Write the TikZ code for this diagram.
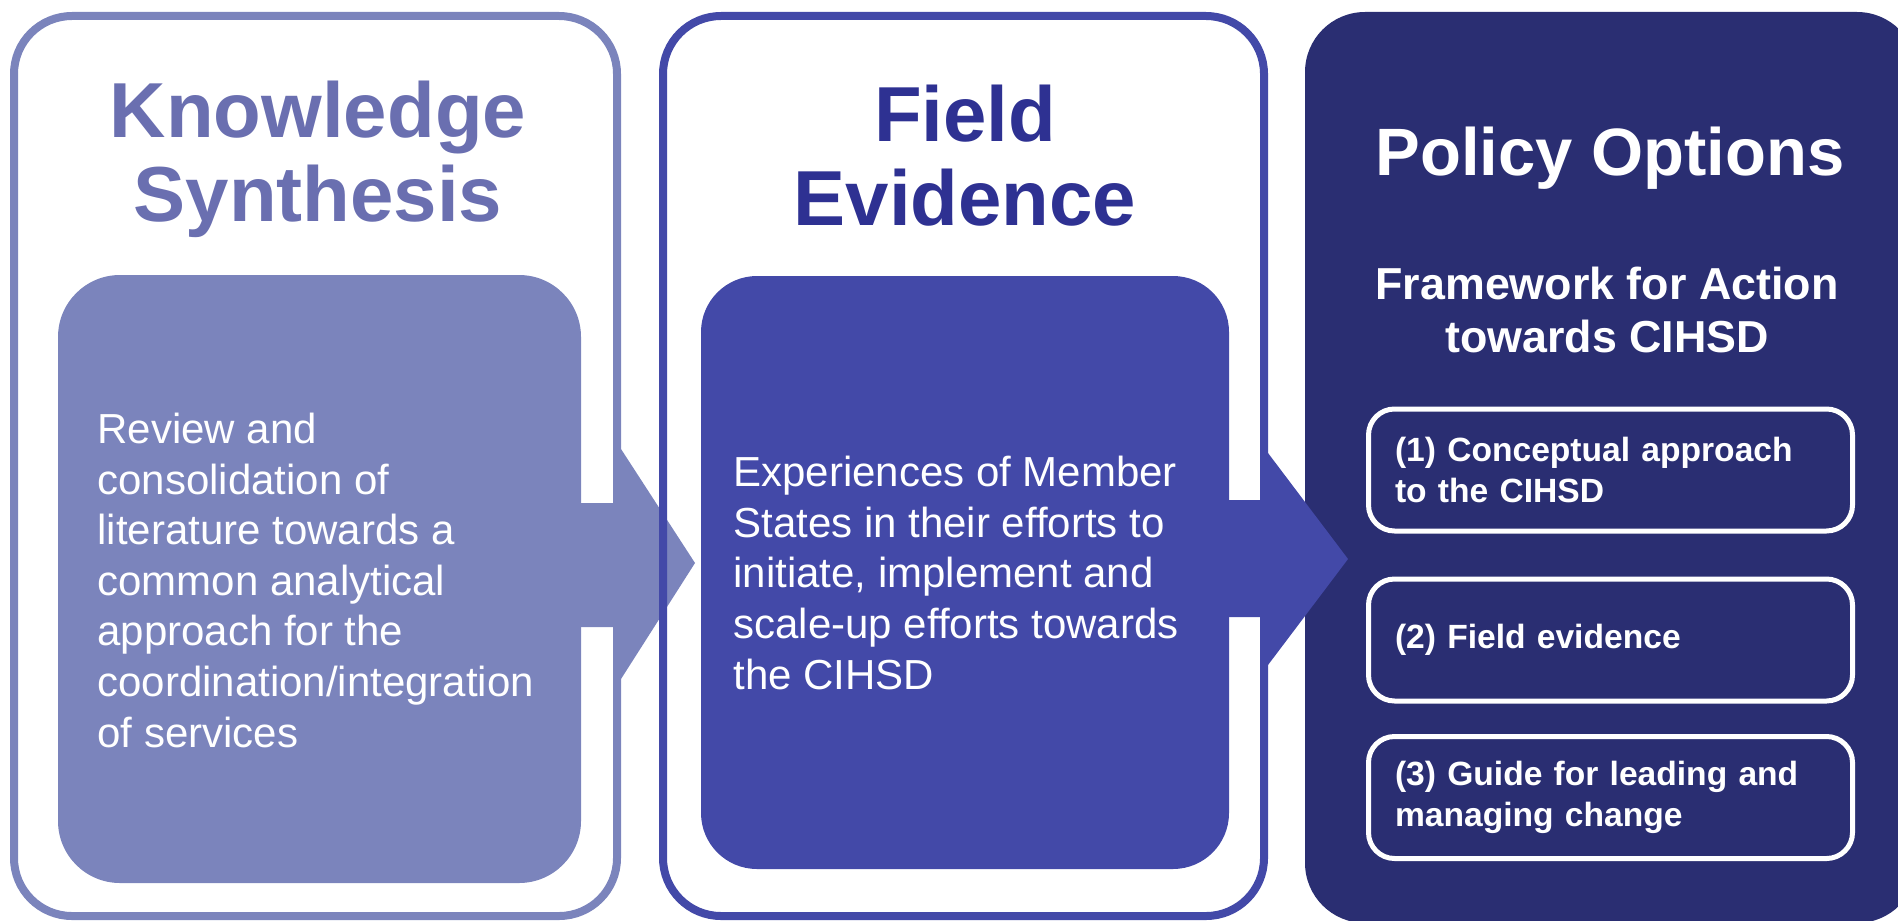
\documentclass[tikz,border=0pt]{standalone}
\usepackage{fontspec}
\setmainfont{Liberation Sans}
\definecolor{ksLight}{RGB}{123,132,188}
\definecolor{ksTitle}{RGB}{106,111,176}
\definecolor{feMid}{RGB}{67,73,168}
\definecolor{feTitle}{RGB}{46,49,146}
\definecolor{poDark}{RGB}{42,46,114}

\begin{document}
\begin{tikzpicture}[x=0.5pt, y=-0.5pt,
    panel/.style={line width=4pt, rounded corners=29pt},
    title/.style={align=center, inner sep=0pt, anchor=base,
      font=\bfseries\fontsize{39}{42}\selectfont},
    body/.style={text=white, align=left, inner sep=0pt, anchor=base west,
      font=\fontsize{21}{25.3}\selectfont},
    item/.style={draw=white, line width=2.5pt, rounded corners=13pt,
      text=white, text width=215.5pt, align=left, inner xsep=13.25pt,
      minimum width=242pt, minimum height=61pt,
      font=\bfseries\fontsize{16.8}{20.5}\selectfont}]

  \useasboundingbox (0,0) rectangle (1898,920);

  \draw[panel, draw=ksLight] (14,16) rectangle (617,916);
  \fill[poDark, rounded corners=30pt] (1305,12) rectangle (1917,923);

  \fill[ksLight, rounded corners=31pt] (58,275) rectangle (581,883);
  \fill[ksLight] (570,503) -- (621,503) -- (621,449) -- (695,563)
    -- (621,679) -- (621,627) -- (570,627) -- cycle;

  \draw[panel, draw=feMid] (663,16) rectangle (1264,916);
  \fill[feMid, rounded corners=28pt] (701,276) rectangle (1229,869);
  \fill[feMid] (1220,500) -- (1268,500) -- (1268,453) -- (1348,559)
    -- (1268,665) -- (1268,617) -- (1220,617) -- cycle;

  % base of a multi-line node is its last line
  \node[title, text=ksTitle] (KS) at (318,221) {Knowledge\\Synthesis};
  \node[title, text=feTitle] (FE) at (965,225) {Field\\Evidence};
  \node[title, text=white, font=\bfseries\fontsize{33.5}{40}\selectfont]
    (PO) at (1610,175) {Policy Options};
  \node[title, text=white, font=\bfseries\fontsize{22.4}{26.5}\selectfont]
    (FA) at (1607,352) {Framework for Action\\towards CIHSD};

  \node[body] (KStext) at (97,747) {Review and\\consolidation of\\literature towards a\\common analytical\\approach for the\\coordination/integration\\of services};
  \node[body] (FEtext) at (733,689) {Experiences of Member\\States in their efforts to\\initiate, implement and\\scale-up efforts towards\\the CIHSD};

  \node[item] (P1) at (1610.5,470) {(1) Conceptual approach\\to the CIHSD};
  \node[item] (P2) at (1610.5,640) {(2) Field evidence};
  \node[item] (P3) at (1610.5,797.5) {(3) Guide for leading and\\managing change};
\end{tikzpicture}
\end{document}
